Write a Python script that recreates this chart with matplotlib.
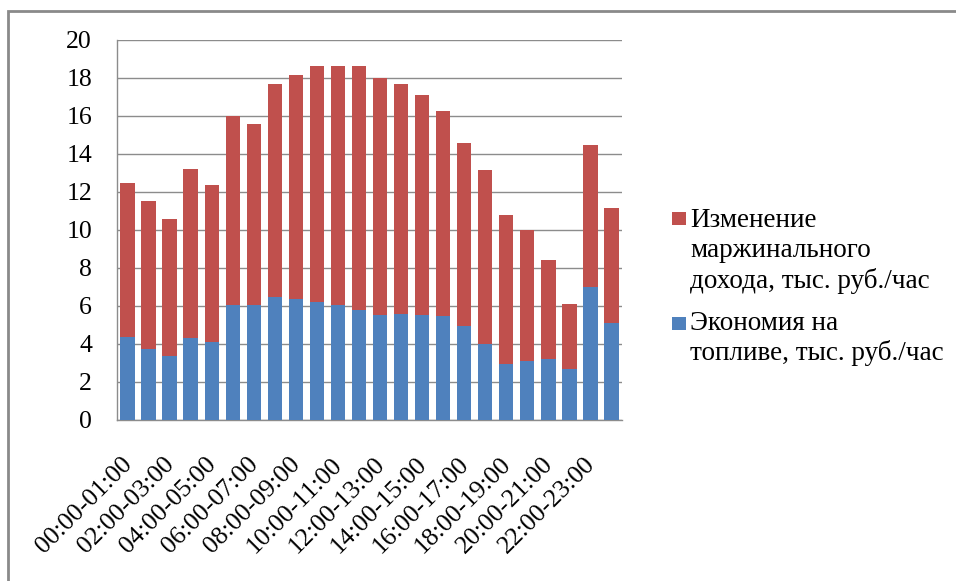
import matplotlib
matplotlib.use("Agg")
import matplotlib.pyplot as plt
import matplotlib.transforms as mtransforms
from matplotlib.patches import Rectangle
import numpy as np

FONT = "Liberation Serif"
plt.rcParams["font.family"] = FONT

hours = [f"{h:02d}:00-{h + 1:02d}:00" for h in range(24)]

# Total per hour (top of the stack) and fuel savings (lower part), thous. rub/hour
totals = [12.46, 11.53, 10.58, 13.21, 12.35, 16.00, 15.58, 17.68, 18.14, 18.61,
          18.61, 18.61, 18.00, 17.67, 17.12, 16.25, 14.56, 13.14, 10.77, 9.98,
          8.42, 6.12, 14.49, 11.18]
fuel_savings = [4.39, 3.72, 3.39, 4.32, 4.12, 6.07, 6.07, 6.47, 6.35, 6.21,
                6.07, 5.81, 5.53, 5.60, 5.53, 5.47, 4.93, 3.98, 2.96, 3.11,
                3.23, 2.68, 7.02, 5.12]
margin_change = [round(t - f, 2) for t, f in zip(totals, fuel_savings)]

label_red = ["Изменение", "маржинального", "дохода, тыс. руб./час"]
label_blue = ["Экономия на", "топливе, тыс. руб./час"]

BLUE = "#4F81BD"
RED = "#C0504D"
GRID = "#8C8C8C"
FS = 18.5
FS_LEGEND = 19.5

W, H = 956, 581
fig = plt.figure(figsize=(W / 100, H / 100), dpi=100)

ax = fig.add_axes([117 / W, 1 - 420 / H, (622 - 117) / W, (420 - 40) / H])

x = np.arange(len(hours))
ax.bar(x, fuel_savings, width=0.68, color=BLUE, zorder=3)
ax.bar(x, margin_change, width=0.68, bottom=fuel_savings, color=RED, zorder=3)

ax.set_xlim(-0.5, len(hours) - 0.5)
ax.set_ylim(0, 20)
ax.set_yticks(np.arange(0, 21, 2))
ax.yaxis.grid(True, color=GRID, linewidth=1.0, zorder=0)
ax.set_axisbelow(True)

for side in ("top", "right"):
    ax.spines[side].set_visible(False)
for side in ("left", "bottom"):
    ax.spines[side].set_color(GRID)
    ax.spines[side].set_linewidth(1.0)

ax.tick_params(axis="y", length=0, pad=18, labelsize=FS)
ax.tick_params(axis="x", length=0, pad=24, labelsize=FS)
for lbl in ax.get_yticklabels():
    lbl.set_fontfamily(FONT)

ax.set_xticks(x)
ax.set_xticklabels([h if i % 2 == 0 else "" for i, h in enumerate(hours)])
offset = mtransforms.ScaledTranslation(9 / 100, 0, fig.dpi_scale_trans)
for lbl in ax.get_xticklabels():
    lbl.set_fontfamily(FONT)
    lbl.set_rotation(45)
    lbl.set_ha("right")
    lbl.set_va("top")
    lbl.set_transform(lbl.get_transform() + offset)

# Legend: colour squares aligned with the first line of each entry
def px(xp, yp):
    return xp / W, 1 - yp / H

legend_items = [(RED, label_red, 212, [227, 257, 288]),
                (BLUE, label_blue, 317, [330, 360])]
for color, lines, sq_top, baselines in legend_items:
    sx, sy = px(672, sq_top + 13)
    fig.patches.append(Rectangle((sx, sy), 14 / W, 13 / H, transform=fig.transFigure,
                                 facecolor=color, edgecolor="none"))
    for line, base in zip(lines, baselines):
        tx, ty = px(690, base)
        fig.text(tx, ty, line, fontsize=FS_LEGEND, family=FONT, ha="left", va="baseline")

# Outer chart frame
fig.patches.append(Rectangle((8 / W, -0.05), 1.2, 1 - 11 / H + 0.05,
                             transform=fig.transFigure, fill=False,
                             edgecolor="#8A8A8A", linewidth=2.0))

fig.savefig("out.png", dpi=100)
